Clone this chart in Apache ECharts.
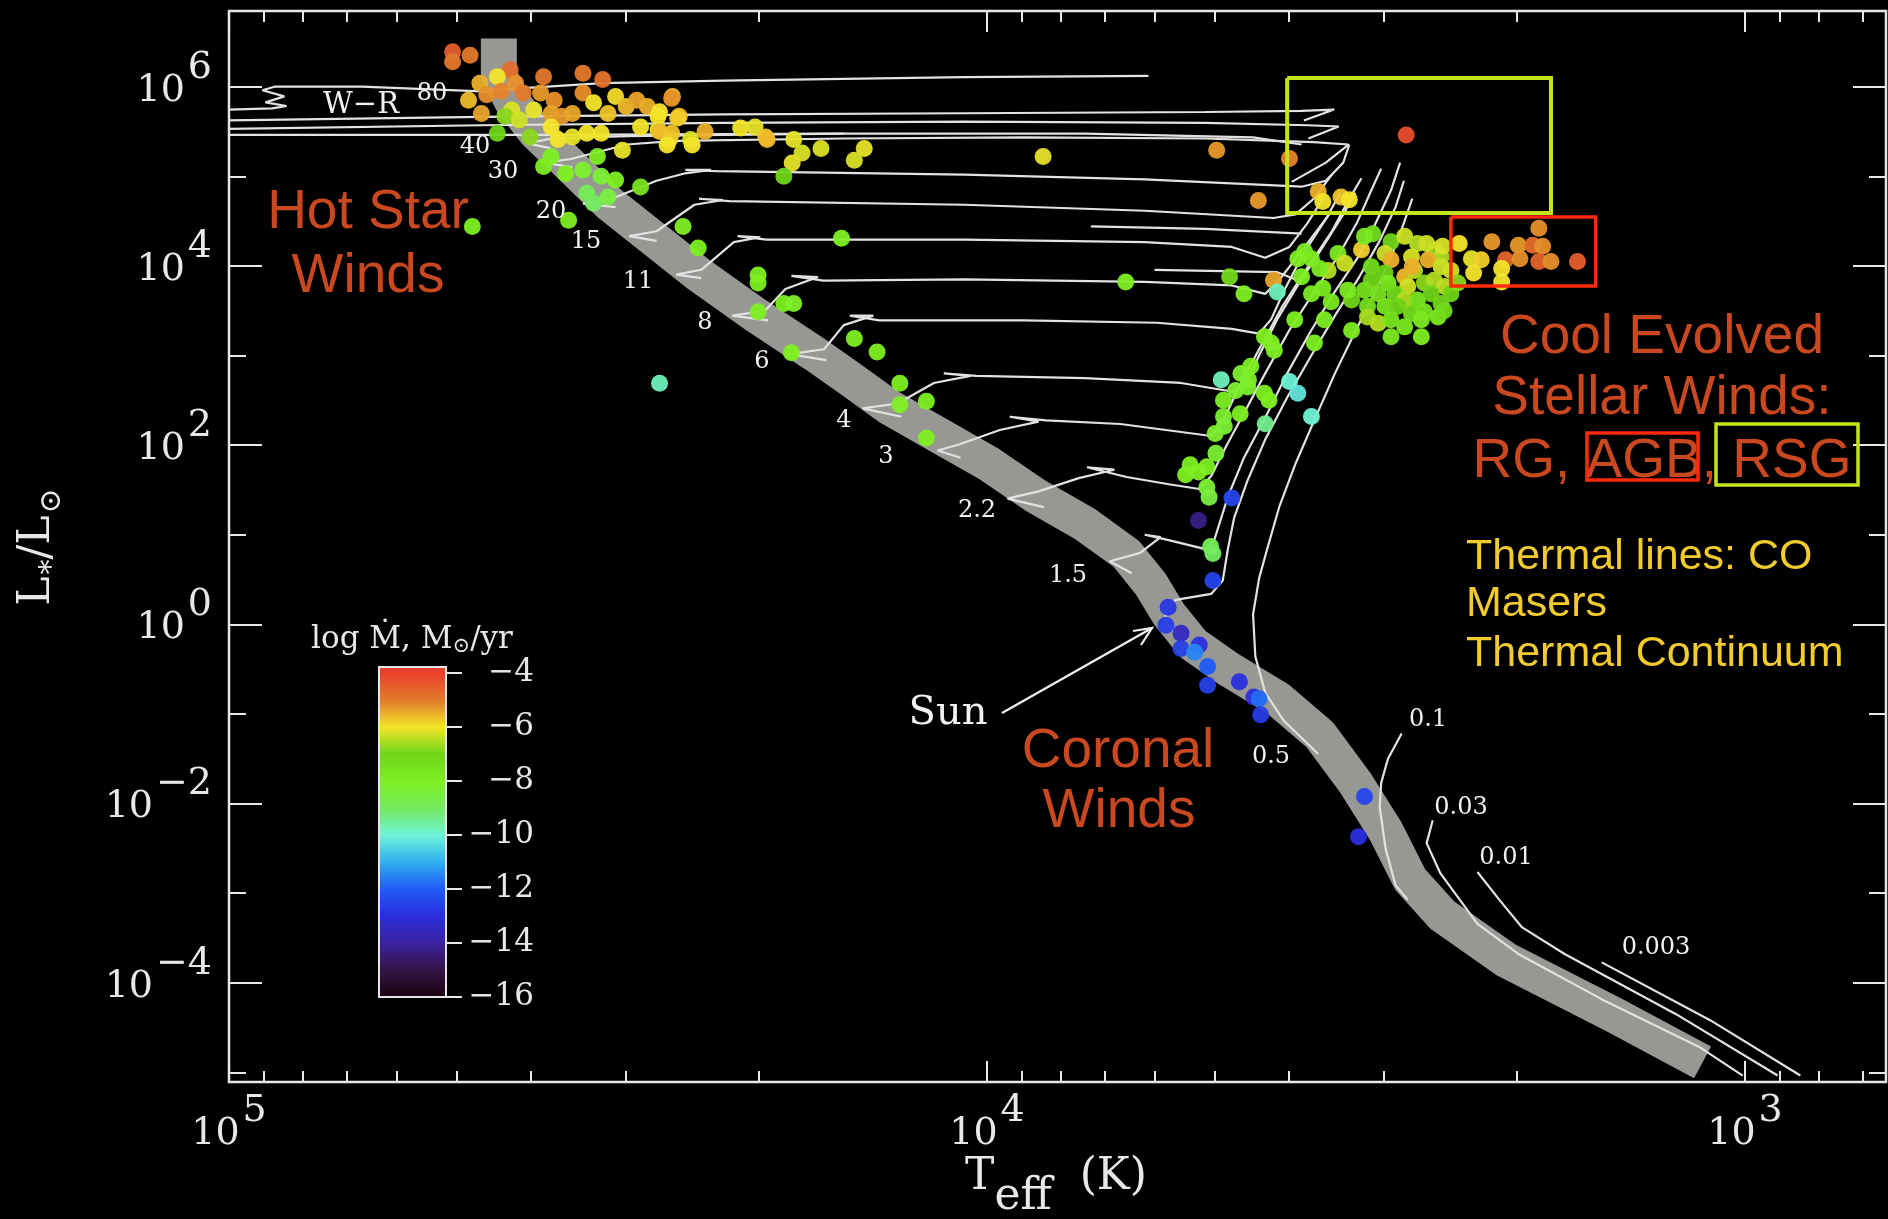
<!DOCTYPE html>
<html>
<head>
<meta charset="utf-8">
<title>HR diagram – stellar winds</title>
<script src="https://cdn.jsdelivr.net/npm/echarts@6/dist/echarts.min.js"></script>
<style>
html,body{margin:0;padding:0;background:#000;overflow:hidden;}
#chart{width:1888px;height:1219px;}
</style>
</head>
<body>
<div id="chart"></div>
<script>
// ---------------- axis ranges & ticks (log10 units) ----------------
const LOGT_MIN = 2.814, LOGT_MAX = 5.0;
const LOGL_MIN = -5.107, LOGL_MAX = 6.845;
const MDOT_MIN = -16, MDOT_TOP = -3.78;

const xMajorTicks = [3, 4, 5];
const xMinorTicksK = [700, 800, 900, 2000, 3000, 4000, 5000, 6000, 7000, 8000, 9000,
                      20000, 30000, 40000, 50000, 60000, 70000, 80000, 90000];
const yMajorTicks = [-4, -2, 0, 2, 4, 6];
const yMinorTicks = [-5, -3, -1, 1, 3, 5];
const mdotTicks = [-16, -14, -12, -10, -8, -6, -4];
// colour scale for log Mdot from -16 to -4 (one colour per unit)
const mdotColors = ['#1c0312', '#341448', '#3a22a0', '#2a2ede', '#1e5cf5', '#30b0f0',
                    '#6ef3d6', '#73eb5f', '#7ef022', '#6fd418', '#f4e52a', '#e2792a', '#ea412d'];

// ---------------- zero-age main sequence band [logT, logL] ----------------
const zamsBand = [[4.644,6.538],[4.644,6.134],[4.626,5.825],[4.595,5.489],[4.550,5.126],[4.498,4.696],
  [4.444,4.333],[4.380,3.903],[4.304,3.446],[4.227,3.016],[4.177,2.720],[4.129,2.425],[4.062,2.102],
  [3.998,1.793],[3.935,1.430],[3.871,1.121],[3.816,0.785],[3.784,0.449],[3.760,0.113],[3.728,-0.223],
  [3.680,-0.506],[3.617,-0.828],[3.561,-1.231],[3.514,-1.769],[3.474,-2.307],[3.442,-2.844],
  [3.399,-3.247],[3.315,-3.745],[3.172,-4.363],[3.056,-4.887]];

// ---------------- evolutionary tracks [logT, logL] ----------------
const track80 = [[4.658,5.96],[4.507,6.04],[4.348,6.067],[4.030,6.107],[3.787,6.121]];
const trackWR = [[4.658,5.946],[4.825,6.0],[4.940,6.0],[4.956,5.96],[4.927,5.892],[4.952,5.825],
  [4.924,5.785],[4.943,5.758],[5.0,5.745]];
const trackBlueA = [[5.0,5.624],[4.666,5.664],[4.348,5.691],[4.030,5.704],[3.712,5.718],[3.585,5.731],[3.542,5.745],[3.582,5.624]];
const trackBlueB = [[5.0,5.53],[4.666,5.57],[4.348,5.597],[4.030,5.61],[3.712,5.597],[3.577,5.57],[3.536,5.556],[3.576,5.422]];
const trackBlueC = [[5.0,5.462],[4.587,5.462],[4.189,5.476],[3.871,5.476],[3.649,5.435],[3.585,5.355]];
const track40 = [[4.576,5.314],[4.607,5.368],[4.574,5.422],[4.475,5.449],[4.348,5.462],[4.189,5.476]];
const track30 = [[4.547,5.099],[4.584,5.153],[4.549,5.193],[4.475,5.355],[4.412,5.395],[4.189,5.422],
  [3.951,5.435],[3.712,5.422],[3.569,5.382],[3.523,5.355],[3.553,5.153],[3.598,4.938]];
const track20 = [[4.490,4.656],[4.533,4.696],[4.495,4.750],[4.436,4.951],[4.399,5.032],[4.364,5.073],
  [4.398,5.073],[4.356,5.059],[4.030,5.019],[3.792,4.965],[3.585,4.884],[3.553,4.951],[3.530,5.153],[3.522,5.355]];
const track15 = [[4.436,4.280],[4.472,4.333],[4.436,4.387],[4.386,4.683],[4.348,4.736],[4.380,4.750],
  [4.340,4.723],[4.030,4.683],[3.792,4.616],[3.622,4.535],[3.593,4.575],[3.569,4.750],[3.545,5.019]];
const track11 = [[4.377,3.863],[4.410,3.903],[4.377,3.957],[4.334,4.266],[4.299,4.320],[4.329,4.333],
  [4.291,4.293],[4.030,4.293],[3.792,4.266],[3.677,4.212],[3.633,4.091],[3.601,4.212],[3.577,4.481],[3.557,4.750]];
const loop11 = [[3.863,4.441],[3.712,4.414],[3.585,4.360]];
const track8 = [[4.289,3.392],[4.336,3.446],[4.293,3.500],[4.266,3.742],[4.223,3.876],[4.258,3.890],
  [4.216,3.836],[4.030,3.849],[3.792,3.823],[3.677,3.782],[3.633,3.688],[3.614,3.849],[3.593,4.078],
  [3.569,4.347],[3.545,4.616]];
const loop8 = [[3.779,3.957],[3.617,3.930],[3.593,3.849]];
const track6 = [[4.212,2.949],[4.261,3.016],[4.215,3.070],[4.189,3.339],[4.150,3.446],[4.181,3.446],
  [4.142,3.392],[3.951,3.392],[3.776,3.366],[3.677,3.298],[3.641,3.245],[3.625,3.406],[3.607,3.742],
  [3.582,4.145],[3.553,4.521],[3.534,4.817]];
const track4 = [[4.113,2.317],[4.164,2.411],[4.118,2.465],[4.070,2.694],[4.022,2.774],[4.057,2.801],
  [4.014,2.774],[3.871,2.747],[3.744,2.694],[3.677,2.599],[3.657,2.694],[3.641,3.003],[3.617,3.406],
  [3.588,3.809],[3.557,4.212],[3.530,4.575],[3.514,4.817]];
const track3 = [[4.035,1.860],[4.065,1.941],[4.037,2.008],[3.983,2.169],[3.932,2.263],[3.970,2.317],
  [3.922,2.277],[3.824,2.236],[3.704,2.102],[3.689,2.263],[3.668,2.640],[3.641,3.070],[3.611,3.540],
  [3.577,3.984],[3.545,4.387],[3.522,4.750],[3.506,4.978]];
const track2p2 = [[3.925,1.309],[3.973,1.403],[3.932,1.484],[3.879,1.632],[3.832,1.726],[3.868,1.753],
  [3.816,1.645],[3.760,1.564],[3.720,1.511],[3.704,1.658],[3.684,1.995],[3.661,2.357],[3.633,2.801],
  [3.601,3.285],[3.569,3.702],[3.537,4.105],[3.512,4.481],[3.493,4.844],[3.480,5.086]];
const track1p5 = [[3.809,0.570],[3.838,0.704],[3.798,0.798],[3.771,0.973],[3.792,1.000],[3.763,0.946],
  [3.712,0.839],[3.700,0.946],[3.682,1.430],[3.661,1.860],[3.630,2.357],[3.604,2.801],[3.572,3.285],
  [3.542,3.702],[3.510,4.105],[3.487,4.481],[3.467,4.844],[3.455,5.153]];
const track1p0 = [[3.743,-0.170],[3.760,-0.022],[3.766,0.140],[3.751,0.274],[3.704,0.341],[3.689,0.489],
  [3.682,0.852],[3.674,1.188],[3.657,1.591],[3.633,2.062],[3.604,2.532],[3.572,3.003],[3.541,3.446],
  [3.509,3.876],[3.482,4.280],[3.461,4.656],[3.450,4.951]];
const track0p8 = [[3.563,-1.446],[3.609,-1.070],[3.633,-0.761],[3.646,-0.358],[3.649,0.113],[3.641,0.516],
  [3.630,0.852],[3.614,1.323],[3.593,1.793],[3.569,2.263],[3.541,2.801],[3.514,3.272],[3.490,3.675],
  [3.466,4.118],[3.450,4.481],[3.439,4.750]];
const track0p1 = [[3.453,-1.218],[3.471,-1.500],[3.480,-1.769],[3.482,-2.038],[3.474,-2.508],[3.461,-2.911],[3.445,-3.073]];
const track0p03 = [[3.412,-2.186],[3.420,-2.441],[3.402,-2.777],[3.353,-3.342],[3.299,-3.678],[3.188,-4.188],[3.061,-4.713],[3.003,-5.035]];
const track0p01 = [[3.353,-2.764],[3.323,-3.086],[3.294,-3.382],[3.238,-3.678],[3.091,-4.350],[2.957,-5.035]];
const track0p003 = [[3.189,-3.772],[3.046,-4.417],[2.927,-5.035]];

// ---------------- observed stars [logT, logL, log Mdot] ----------------
const windStars = [
 [4.705,6.39,-4.5],[4.705,6.28,-5.0],[4.682,6.35,-5.0],[4.629,6.19,-4.8],[4.646,6.11,-6.0],[4.669,6.04,-5.5],
 [4.684,5.85,-5.6],[4.667,5.70,-5.4],[4.660,5.91,-5.2],[4.641,5.95,-5.1],[4.622,6.04,-5.2],[4.612,5.93,-5.0],
 [4.627,5.74,-6.2],[4.636,5.67,-6.8],[4.617,5.63,-6.3],[4.598,5.74,-6.1],[4.646,5.48,-7.0],[4.603,5.44,-6.8],
 [4.585,6.11,-5.0],[4.589,5.93,-5.3],[4.571,5.85,-5.2],[4.575,5.70,-5.4],[4.561,5.67,-5.3],[4.575,5.55,-6.0],
 [4.566,5.41,-6.0],[4.547,5.44,-6.1],[4.528,5.48,-6.0],[4.509,5.48,-6.0],[4.547,5.70,-5.4],[4.533,6.15,-5.0],
 [4.533,5.93,-5.2],[4.507,6.08,-4.9],[4.519,5.82,-6.0],[4.500,5.70,-5.7],[4.490,5.89,-5.9],[4.476,5.78,-5.6],
 [4.462,5.85,-5.4],[4.448,5.78,-5.5],[4.434,5.67,-6.0],[4.415,5.89,-5.6],[4.406,5.67,-5.6],[4.457,5.55,-6.0],
 [4.434,5.52,-6.0],[4.419,5.41,-6.1],[4.391,5.41,-6.2],[4.372,5.50,-5.5],[4.481,5.29,-6.1],[4.514,5.22,-8.0],
 [4.575,5.22,-8.0],[4.585,5.11,-7.9],[4.556,5.03,-8.0],[4.533,5.07,-8.2],[4.509,5.00,-8.3],[4.490,4.96,-8.0],
 [4.528,4.81,-8.8],[4.519,4.70,-9.0],[4.500,4.77,-8.5],[4.457,4.88,-7.5],[4.552,4.51,-8.0],[4.401,4.44,-8.0],
 [4.679,4.44,-8.0],[4.325,5.54,-6.0],[4.306,5.55,-6.1],[4.292,5.44,-5.7],
 [4.416,5.87,-5.2],[4.432,5.72,-6.0],[4.408,5.65,-5.8],[4.432,5.50,-5.6],[4.416,5.48,-5.7],[4.422,5.35,-6.0],
 [4.389,5.35,-6.0],[4.290,5.41,-5.6],[4.255,5.41,-6.1],[4.244,5.26,-6.2],[4.257,5.15,-6.1],[4.268,5.00,-7.0],
 [4.219,5.31,-6.2],[4.162,5.31,-6.1],[4.175,5.18,-6.2],[3.926,5.22,-6.1],[3.697,5.29,-5.3],[3.601,5.20,-5.1],
 [3.642,4.73,-5.3],
 [4.381,4.20,-8.0],[4.192,4.31,-8.0],[4.302,3.90,-8.0],[4.302,3.81,-8.0],[4.268,3.58,-8.0],[4.255,3.58,-8.1],
 [4.302,3.49,-8.0],[4.258,3.03,-8.0],[4.175,3.19,-8.0],[4.145,3.04,-8.0],[4.115,2.69,-8.0],[4.080,2.49,-8.0],
 [4.115,2.45,-8.0],[4.432,2.69,-9.8],[3.817,3.82,-8.0],[3.680,3.88,-7.2],[3.661,3.69,-8.0],[3.622,3.84,-5.4],
 [3.617,3.71,-9.8],[4.080,2.08,-8.0],
 [3.705,0.87,-8.8],[3.702,0.79,-9.0],[3.677,1.41,-12.5],[3.721,1.16,-14.3],[3.702,0.49,-12.5],
 [3.761,0.19,-12.8],[3.764,-0.01,-12.7],[3.744,-0.10,-13.5],[3.744,-0.27,-12.6],[3.720,-0.23,-13.0],
 [3.726,-0.31,-11.5],[3.709,-0.47,-12.0],[3.709,-0.68,-12.6],[3.667,-0.64,-13.0],[3.648,-0.81,-13.0],
 [3.641,-0.83,-11.8],[3.639,-1.01,-12.7],[3.502,-1.92,-12.5],[3.510,-2.37,-13.0],
 [3.732,1.78,-8.0],[3.721,1.70,-8.0],[3.738,1.67,-8.0],[3.710,1.76,-8.0],[3.710,1.53,-8.3],[3.707,1.42,-8.5],
 [3.699,2.13,-8.2],[3.688,2.32,-8.2],[3.688,2.50,-8.0],[3.672,2.61,-8.2],[3.666,2.35,-8.0],[3.633,2.24,-9.4],
 [3.628,2.50,-8.0],[3.655,2.73,-8.0],[3.698,1.91,-8.3],
 [3.634,3.21,-8.0],[3.625,3.14,-8.0],[3.621,3.06,-8.0],[3.652,2.88,-8.0],[3.665,2.80,-8.2],[3.656,2.65,-8.2],
 [3.634,2.58,-8.0],[3.691,2.73,-9.8],[3.601,2.71,-10.0],[3.590,2.58,-10.2],[3.572,2.32,-10.0],[3.687,2.21,-8.3],
 [3.447,5.46,-4.2],[3.563,4.83,-5.5],[3.557,4.72,-6.0],[3.533,4.77,-5.7],[3.522,4.74,-6.0],
 [3.272,4.42,-5.2],[3.334,4.27,-5.3],[3.299,4.23,-5.3],[3.280,4.23,-4.8],[3.267,4.22,-5.2],[3.316,4.07,-4.6],
 [3.297,4.08,-5.2],[3.272,4.05,-4.6],[3.256,4.05,-5.2],[3.221,4.05,-4.5],[3.321,3.97,-6.0],[3.321,3.82,-6.0],
 [3.377,4.25,-6.0],[3.361,4.08,-6.1],[3.348,4.07,-5.8],[3.358,3.92,-6.0],
 [3.491,4.36,-7.2],[3.467,4.27,-7.0],[3.449,4.33,-6.3],[3.432,4.25,-6.5],[3.410,4.18,-6.8],[3.401,4.10,-6.5],
 [3.581,4.16,-7.8],[3.537,4.14,-7.8],[3.506,4.18,-5.8],[3.475,4.14,-6.3],[3.467,4.07,-5.5],[3.440,4.10,-6.2],
 [3.418,4.07,-5.5],[3.401,3.99,-6.3],[3.388,3.95,-6.3],[3.528,4.03,-6.3],[3.550,3.95,-6.5],[3.561,3.97,-7.8],
 [3.572,4.08,-7.8],[3.590,4.08,-8.0],[3.585,3.88,-8.0],[3.493,3.99,-7.2],[3.493,3.84,-7.0],[3.475,3.92,-7.0],
 [3.471,3.81,-7.8],[3.449,3.88,-5.6],[3.436,3.95,-6.5],[3.445,3.77,-6.3],[3.423,3.81,-6.8],[3.410,3.84,-6.5],
 [3.396,3.77,-6.4],[3.388,3.69,-7.0],[3.502,3.73,-7.4],[3.484,3.69,-7.5],[3.462,3.69,-7.2],[3.449,3.62,-6.5],
 [3.432,3.62,-7.6],[3.414,3.69,-7.0],[3.401,3.58,-7.0],[3.519,3.62,-7.0],[3.498,3.55,-7.3],[3.475,3.55,-7.6],
 [3.458,3.55,-7.0],[3.440,3.47,-7.3],[3.423,3.49,-7.5],[3.405,3.43,-7.8],[3.498,3.43,-6.6],[3.484,3.36,-6.5],
 [3.467,3.40,-7.6],[3.449,3.32,-7.8],[3.427,3.40,-7.8],[3.467,3.21,-7.8],[3.427,3.21,-8.0],[3.546,3.60,-7.7],
 [3.524,3.73,-7.8],[3.555,3.40,-7.9],[3.519,3.28,-7.9],[3.568,3.14,-8.0],[3.594,3.40,-8.0],[3.502,4.33,-7.8],
 [3.557,3.75,-7.8],[3.572,3.69,-7.8],[3.420,4.25,-6.3],[3.399,4.22,-6.2],[3.439,3.99,-5.5],[3.379,3.81,-6.8],
 [3.397,3.50,-7.2]
];

// highlighted regions [logT, logL] corners
const rsgRegion = [[3.604,6.097],[3.256,6.097],[3.256,4.590],[3.604,4.590],[3.604,6.097]];
const agbRegion = [[3.388,4.546],[3.197,4.546],[3.197,3.776],[3.388,3.776],[3.388,4.546]];

// track mass labels
const massLabels = ['80','40','30','20','15','11','8','6','4','3','2.2','1.5','0.5','0.1','0.03','0.01','0.003'];

// ---------------- chart ----------------
const AX = '#e8e8e8';
const SERIF = "'DejaVu Serif', serif";
const SANS = "'Liberation Sans', Arial, sans-serif";
const ORANGE = '#c9481f';

const xMinorTicks = xMinorTicksK.map(t => Math.log10(t));

function expLabel(v) {
  const e = Math.round(v);
  return '{b|10}{s|' + (e < 0 ? '\u2212' + (-e) : String(e)) + '}';
}
const expRich = {
  b: {fontFamily: SERIF, fontSize: 38, lineHeight: 38, color: AX},
  s: {fontFamily: SERIF, fontSize: 38, lineHeight: 38, color: AX, padding: [0, 0, 46, 3]}
};

function xAx(pos, ticks, len, labels) {
  return {
    gridIndex: 0, type: 'value', min: LOGT_MIN, max: LOGT_MAX, inverse: true, position: pos,
    axisLine: {show: false, onZero: false}, splitLine: {show: false},
    axisTick: {show: true, inside: true, length: len, customValues: ticks, lineStyle: {color: AX, width: 2}},
    axisLabel: labels ? {show: true, customValues: ticks, formatter: expLabel, rich: expRich, margin: 33, color: AX}
                      : {show: false}
  };
}
function yAx(pos, ticks, len, labels) {
  return {
    gridIndex: 0, type: 'value', min: LOGL_MIN, max: LOGL_MAX, position: pos,
    axisLine: {show: false, onZero: false}, splitLine: {show: false},
    axisTick: {show: true, inside: true, length: len, customValues: ticks, lineStyle: {color: AX, width: 2}},
    axisLabel: labels ? {show: true, customValues: ticks, formatter: expLabel, rich: expRich, margin: 17,
                         color: AX, padding: [8, 0, 0, 0]}
                      : {show: false}
  };
}

const trackList = [track80, trackWR, trackBlueA, trackBlueB, trackBlueC, track40, track30, track20, track15,
  track11, loop11, track8, loop8, track6, track4, track3, track2p2, track1p5, track1p0, track0p8,
  track0p1, track0p03, track0p01, track0p003];

const series = [];
series.push({
  type: 'line', xAxisIndex: 0, yAxisIndex: 0, data: zamsBand, showSymbol: false, silent: true, z: 1,
  lineStyle: {color: '#979894', width: 36, cap: 'butt', join: 'round'}
});
trackList.forEach(tr => series.push({
  type: 'line', xAxisIndex: 0, yAxisIndex: 0, data: tr, showSymbol: false, silent: true, z: 2,
  lineStyle: {color: '#e2e2e2', width: 2.2}
}));
const starIndex = series.length;
series.push({
  type: 'scatter', xAxisIndex: 0, yAxisIndex: 0, data: windStars, symbolSize: 17, z: 3, silent: true,
  itemStyle: {opacity: 0.95}
});
series.push({
  type: 'line', xAxisIndex: 0, yAxisIndex: 0, data: rsgRegion, showSymbol: false, silent: true, z: 4,
  lineStyle: {color: '#c6e31c', width: 4, join: 'miter'}
});
series.push({
  type: 'line', xAxisIndex: 0, yAxisIndex: 0, data: agbRegion, showSymbol: false, silent: true, z: 4,
  lineStyle: {color: '#ff2a0a', width: 3.5, join: 'miter'}
});
// colour bar drawn in its own small grid
series.push({
  type: 'custom', coordinateSystem: 'cartesian2d', xAxisIndex: 4, yAxisIndex: 4, silent: true, z: 5,
  data: [[0, MDOT_MIN]],
  renderItem: function (params, api) {
    const p0 = api.coord([0, MDOT_MIN]);
    const p1 = api.coord([1, MDOT_TOP]);
    const span = MDOT_TOP - MDOT_MIN;
    const stops = mdotColors.map((c, i) => ({offset: i / span, color: c}));
    stops.push({offset: 1, color: mdotColors[mdotColors.length - 1]});
    const shape = {x: p0[0], y: p1[1], width: p1[0] - p0[0], height: p0[1] - p1[1]};
    return {type: 'group', children: [
      {type: 'rect', shape: shape, style: {fill: new echarts.graphic.LinearGradient(0, 1, 0, 0, stops)}},
      {type: 'rect', shape: shape, style: {fill: 'none', stroke: '#e6e6e6', lineWidth: 2}}
    ]};
  }
});

// ---------------- annotation texts ----------------
function txt(x, y, text, size, color, family, align) {
  return {type: 'text', x: x, y: y, z: 100, silent: true,
    style: {text: text, fill: color, fontSize: size, fontFamily: family,
            textAlign: align || 'center', textVerticalAlign: 'middle'}};
}
const massPos = [[432,94],[475,147],[503,172],[551,212],[586,242],[638,282],[705,323],[762,362],[844,421],
  [886,457],[977,511],[1068,576],[1271,757],[1428,720],[1461,808],[1506,858],[1656,948]];
const graphics = [];
massLabels.forEach((m, i) => graphics.push(txt(massPos[i][0], massPos[i][1], m, 24, '#f2f2f2', SERIF)));
graphics.push(txt(361, 105, 'W\u2212R', 29, '#f2f2f2', SERIF));
graphics.push(txt(948, 714, 'Sun', 40, '#f2f2f2', SERIF));
graphics.push({type: 'polyline', z: 100, silent: true, shape: {points: [[1002,713],[1152,628]]},
  style: {stroke: '#f0f0f0', lineWidth: 2.2, fill: 'none'}});
graphics.push({type: 'polyline', z: 100, silent: true, shape: {points: [[1133,631],[1152,628],[1141,645]]},
  style: {stroke: '#f0f0f0', lineWidth: 2.2, fill: 'none'}});

graphics.push(txt(368, 213, 'Hot Star', 55, ORANGE, SANS));
graphics.push(txt(368, 277, 'Winds', 55, ORANGE, SANS));
graphics.push(txt(1662, 338, 'Cool Evolved', 55, ORANGE, SANS));
graphics.push(txt(1662, 399, 'Stellar Winds:', 55, ORANGE, SANS));
graphics.push(txt(1662, 462, 'RG, AGB, RSG', 55, ORANGE, SANS));
graphics.push(txt(1118, 752, 'Coronal', 55, ORANGE, SANS));
graphics.push(txt(1119, 812, 'Winds', 55, ORANGE, SANS));
graphics.push(txt(1466, 557, 'Thermal lines: CO', 43, '#f2cb2d', SANS, 'left'));
graphics.push(txt(1466, 604, 'Masers', 43, '#f2cb2d', SANS, 'left'));
graphics.push(txt(1466, 654, 'Thermal Continuum', 43, '#f2cb2d', SANS, 'left'));
graphics.push({type: 'rect', z: 100, silent: true, shape: {x: 1587, y: 433, width: 111, height: 47},
  style: {fill: 'none', stroke: '#ff2a0a', lineWidth: 3.5}});
graphics.push({type: 'rect', z: 100, silent: true, shape: {x: 1716, y: 424, width: 142, height: 61},
  style: {fill: 'none', stroke: '#c6e31c', lineWidth: 3.5}});

// axis titles
graphics.push({type: 'text', x: 1056, y: 1178, z: 100, silent: true,
  style: {text: '{n|T}{sub|eff}{n|  (K)}', textAlign: 'center', textVerticalAlign: 'middle', fill: AX,
    rich: {n: {fontFamily: SERIF, fontSize: 44, lineHeight: 44, fill: AX},
           sub: {fontFamily: SERIF, fontSize: 44, lineHeight: 44, fill: AX, padding: [40, 0, 0, 0]}}}});
graphics.push({type: 'text', x: 38, y: 547, rotation: Math.PI / 2, z: 100, silent: true,
  style: {text: '{n|L}{sub|*}{n|/L}{sub|\u2299}', textAlign: 'center', textVerticalAlign: 'middle', fill: AX,
    rich: {n: {fontFamily: SERIF, fontSize: 44, lineHeight: 44, fill: AX},
           sub: {fontFamily: SERIF, fontSize: 30, lineHeight: 30, fill: AX, padding: [28, 0, 0, 2]}}}});
graphics.push({type: 'text', x: 412, y: 640, z: 100, silent: true,
  style: {text: '{t|log \u1E40, M}{o|\u2299}{t|/yr}', textAlign: 'center', textVerticalAlign: 'middle', fill: AX,
    rich: {t: {fontFamily: SERIF, fontSize: 31, lineHeight: 31, fill: AX},
           o: {fontFamily: SERIF, fontSize: 21, lineHeight: 21, fill: AX, padding: [13, 0, 0, 0]}}}});

const option = {
  backgroundColor: '#000',
  animation: false,
  grid: [
    {left: 229, right: 2, top: 11, bottom: 137, show: true, borderColor: '#e6e6e6', borderWidth: 2.5,
     backgroundColor: 'transparent'},
    {left: 379, top: 667, width: 67, height: 330, show: false}
  ],
  xAxis: [
    xAx('bottom', xMajorTicks, 21, true),
    xAx('bottom', xMinorTicks, 11, false),
    xAx('top', xMajorTicks, 21, false),
    xAx('top', xMinorTicks, 11, false),
    {gridIndex: 1, type: 'value', min: 0, max: 1, show: false}
  ],
  yAxis: [
    yAx('left', yMajorTicks, 33, true),
    yAx('left', yMinorTicks, 17, false),
    yAx('right', yMajorTicks, 33, false),
    yAx('right', yMinorTicks, 17, false),
    {gridIndex: 1, type: 'value', min: MDOT_MIN, max: MDOT_TOP, position: 'right',
     axisLine: {show: false, onZero: false}, splitLine: {show: false},
     axisTick: {show: true, inside: false, length: 16, customValues: mdotTicks, lineStyle: {color: AX, width: 2}},
     axisLabel: {show: true, customValues: mdotTicks, align: 'right', margin: 88, color: AX,
       fontFamily: SERIF, fontSize: 31, formatter: v => '\u2212' + Math.abs(Math.round(v))}}
  ],
  visualMap: {
    type: 'continuous', show: false, seriesIndex: starIndex, dimension: 2,
    min: -16, max: -4, inRange: {color: mdotColors}
  },
  series: series,
  graphic: {elements: graphics}
};

const chart = echarts.init(document.getElementById('chart'), null, {renderer: 'canvas'});
chart.setOption(option);
</script>
</body>
</html>
